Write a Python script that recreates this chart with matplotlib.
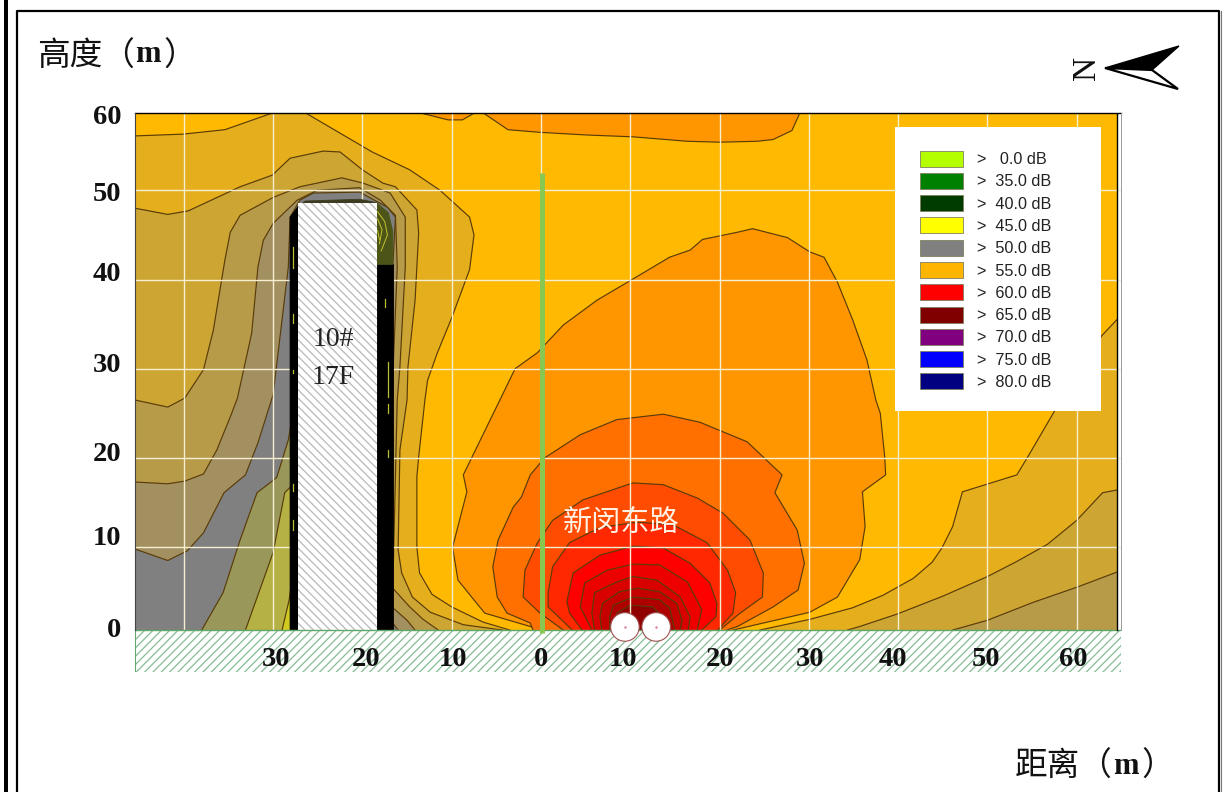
import numpy as np
import matplotlib
matplotlib.use("Agg")
from matplotlib import pyplot as plt
from matplotlib.patches import Rectangle, Circle, Polygon, Patch

plt.rcParams['font.family'] = ['Liberation Serif', 'Noto Sans CJK SC']
plt.rcParams['hatch.linewidth'] = 0.9

# iso-lines, metres (distance, height)
# quiet side, left of the building
left_1 = [(-45.5,56.1),(-40.1,56.3),(-35.4,56.8),(-30.0,58.7),(-26.4,58.7),(-23.0,56.7),(-18.9,54.3),(-14.7,52.3),(-11.3,50.0),(-8.0,47.0),(-7.5,45.0),(-8.0,41.1),(-10.0,35.7),(-11.6,31.8),(-12.7,28.7),(-13.0,26.5),(-13.7,20.1),(-13.9,17.9),(-13.9,10.0),(-13.6,7.1),(-12.2,4.7),(-10.0,3.3),(-6.5,1.6),(-3.5,0.7)]
left_2 = [(-45.5,48.0),(-41.8,47.3),(-39.5,47.7),(-33.7,50.4),(-30.1,51.7),(-28.1,53.6),(-24.4,54.4),(-22.5,54.3),(-20.0,52.3),(-17.7,50.8),(-16.3,50.4),(-13.9,47.8),(-13.7,45.2),(-14.1,37.7),(-14.9,30.2),(-15.0,26.5),(-15.8,20.9),(-16.0,9.7),(-15.6,7.1),(-14.4,4.4),(-12.4,2.7),(-8.7,1.3),(-4.3,0.7)]
left_3 = [(-45.5,26.5),(-41.8,25.7),(-39.9,26.7),(-37.8,29.9),(-36.7,34.3),(-35.4,42.2),(-34.8,45.3),(-33.7,47.2),(-30.0,49.2),(-27.0,50.4),(-22.3,51.4),(-19.9,50.8),(-16.9,49.7),(-15.2,47.0),(-15.2,41.4),(-15.8,30.2),(-16.1,26.5),(-16.6,5.4),(-14.7,3.3),(-13.2,1.9),(-11.5,0.7)]
left_4 = [(-45.5,17.3),(-41.8,17.1),(-39.9,17.4),(-37.8,18.2),(-36.3,20.9),(-34.8,24.6),(-34.0,26.7),(-32.4,34.0),(-31.7,41.4),(-31.1,44.4),(-30.0,46.3),(-27.3,48.9),(-25.1,50.0),(-20.3,50.3),(-18.0,48.9),(-16.3,47.2),(-16.1,41.4),(-16.7,26.5),(-16.7,3.3),(-15.0,1.8),(-14.1,0.7)]
left_5 = [(-45.5,9.8),(-41.8,8.5),(-39.6,9.6),(-37.8,11.6),(-35.5,16.1),(-33.1,18.1),(-31.7,21.7),(-30.0,27.1),(-28.3,41.4),(-28.1,47.0),(-27.0,48.9),(-25.5,49.7),(-20.3,49.8),(-17.2,48.1),(-16.3,47.0),(-16.6,41.4),(-16.9,26.5),(-16.7,1.6),(-16.0,0.7)]
left_6 = [(-38.0,0.7),(-35.6,4.9),(-33.7,10.8),(-31.8,16.1),(-29.6,17.8),(-28.3,22.0),(-27.9,24.3),(-27.9,0.7)]
left_7 = [(-33.1,0.7),(-30.0,9.4),(-28.7,16.1),(-27.9,16.9),(-27.9,0.7)]
left_8 = [(-29.0,0.7),(-28.2,4.1),(-27.9,6.3),(-27.9,0.7)]
# quiet side, far right
right_1 = [(64.5,35.5),(62.8,33.7),(57.6,25.4),(54.8,20.6),(53.3,18.1),(47.2,16.2),(46.1,12.3),(44.9,9.9),(43.8,8.3),(41.7,6.5),(38.3,4.6),(34.9,3.2),(30.1,1.9),(24.5,0.7)]
right_2 = [(64.5,16.4),(62.9,16.1),(60.0,13.0),(56.7,10.3),(53.3,8.4),(50.0,6.7),(45.0,4.5),(39.9,2.5),(35.7,1.1),(34.3,0.7)]
right_3 = [(64.5,7.2),(60.0,5.5),(55.1,3.8),(50.0,1.8),(46.1,0.7)]
# loud side, around the road
road_1 = [(0.4,0.7),(-1.2,1.1),(-6.3,2.6),(-9.3,6.3),(-9.9,10.0),(-8.3,16.2),(-8.7,18.1),(-4.6,26.5),(-2.9,30.0),(-0.4,31.8),(2.5,34.9),(6.3,37.7),(10.2,40.0),(14.4,42.5),(16.7,43.3),(18.1,44.5),(22.0,45.3),(23.7,45.7),(27.6,44.7),(30.1,43.1),(31.7,42.5),(33.2,39.7),(34.9,35.5),(36.5,31.0),(37.5,26.5),(38.0,25.0),(38.5,20.1),(38.6,18.1),(36.0,16.2),(36.3,12.3),(35.7,8.6),(33.2,4.4),(30.1,2.7),(21.5,0.7)]
road_2 = [(-0.9,0.7),(-1.2,1.5),(-3.8,2.6),(-4.9,4.4),(-5.4,7.8),(-4.8,10.8),(-3.1,14.5),(-2.2,15.6),(-1.2,18.1),(0.4,20.0),(4.4,22.6),(8.5,24.3),(13.7,24.9),(17.8,24.0),(23.1,21.8),(27.0,18.1),(26.2,16.1),(28.7,11.9),(29.5,8.2),(28.8,5.2),(26.0,3.3),(22.0,1.1),(20.8,0.7)]
road_3 = [(2.5,0.7),(-0.1,2.6),(-2.0,4.4),(-1.8,7.4),(-0.4,10.5),(1.3,13.0),(4.7,15.3),(10.3,17.2),(13.7,17.0),(17.5,15.5),(20.4,13.8),(23.4,10.8),(24.9,7.1),(24.8,4.4),(22.3,2.6),(20.0,0.7)]
road_4 = [(3.5,0.7),(0.8,3.3),(0.8,4.9),(1.3,7.8),(3.2,10.5),(6.6,12.2),(10.8,12.8),(14.8,12.5),(18.6,10.5),(20.9,7.4),(21.8,4.9),(21.5,2.6),(19.8,0.7)]
road_5 = [(4.6,0.7),(3.2,2.6),(2.9,3.9),(3.6,7.1),(6.6,9.1),(10.3,10.1),(13.7,9.9),(16.7,8.2),(18.9,6.0),(19.7,3.7),(19.6,2.2),(18.0,0.7)]
road_6 = [(5.7,0.7),(4.4,3.3),(4.9,6.0),(7.4,7.4),(10.3,8.1),(13.3,8.0),(16.4,6.1),(18.0,3.0),(17.5,0.7)]
road_7 = [(6.0,0.7),(5.7,2.6),(6.0,4.9),(8.5,6.1),(10.3,6.7),(13.0,6.3),(15.6,4.4),(16.7,2.2),(16.5,0.7)]
road_8 = [(6.8,0.7),(6.6,2.2),(6.9,3.7),(8.8,5.0),(10.8,5.4),(13.3,5.0),(15.2,3.7),(15.8,1.8),(15.6,0.7)]
road_9 = [(7.7,0.7),(7.7,2.2),(8.1,3.5),(10.3,4.4),(13.3,4.1),(14.4,3.2),(15.0,0.7)]
road_10 = [(8.5,0.7),(8.5,2.6),(10.0,3.5),(12.5,3.3),(14.1,1.8),(14.2,0.7)]
# top of the plot
top_1 = [(-6.5,58.7),(-3.7,56.8),(-0.1,56.5),(5.2,56.2),(10.3,56.0),(16.4,55.5),(20.0,55.4),(24.2,55.5),(26.0,55.7),(28.1,56.7),(29.0,58.7)]
top_2 = [(-13.6,58.7),(-10.4,57.9),(-8.8,57.9),(-7.4,58.7)]

left_colors = ['#E5AE1C', '#CDA532', '#B79B49', '#A39060', '#808080', '#9A975A', '#B5B145', '#CFCB20']
right_colors = ['#E5AE1C', '#CDA532', '#B79B49']
road_colors = ['#FF9600', '#FF7000', '#FF4C00', '#FF2800', '#FF0000', '#EC0000', '#D80000', '#C40000', '#AE0000', '#900000']

# building and what hugs it
building = (-27.2, -18.4, 48.6)
wall_left = [(-28.1,0.7),(-28.1,47.0),(-27.2,48.2),(-27.2,0.7)]
wall_right = [(-18.4,0.7),(-18.4,41.7),(-16.6,41.7),(-16.6,0.7)]
wedge = [(-18.4,48.6),(-17.1,47.5),(-16.6,45.4),(-16.6,41.7),(-18.4,41.7)]
roof_ring = [(-27.2,48.2),(-26.4,48.8),(-20.3,49.0),(-18.4,48.6)]
wedge_lines = [[(-18.3,47.6),(-17.5,46.5),(-17.2,45.0),(-17.9,43.2)],[(-18.3,46.8),(-17.8,45.6),(-18.1,44.0)],[(-18.3,45.5),(-18.1,44.5)]]
dashes_x = [-27.8,-27.8,-27.8,-27.8,-27.8,-17.1,-17.5,-17.1,-17.1]
dashes_y = [(41.3,43.6),(35.1,36.1),(29.5,29.9),(16.3,17.1),(11.9,13.0),(26.8,30.8),(36.9,37.8),(25.0,26.1),(20.1,20.9)]

legend_labels = ['>   0.0 dB','>  35.0 dB','>  40.0 dB','>  45.0 dB','>  50.0 dB','>  55.0 dB','>  60.0 dB','>  65.0 dB','>  70.0 dB','>  75.0 dB','>  80.0 dB']
legend_colors = ['#B4FF00','#008000','#003C00','#FFFF00','#808080','#FFB400','#FF0000','#800000','#800080','#0000FF','#000080']

x_grid = [-40,-30,-20,-10,0,10,20,30,40,50,60]
y_grid = [10,20,30,40,50]
x_label_pos = [-29.7,-19.6,-9.9,0,9.2,20,30.1,39.4,49.8,59.6]
x_labels = ['30','20','10','0','10','20','30','40','50','60']
y_label_pos = [58.4,49.7,40.8,30.6,20.6,11.2,0.8]
y_labels = ['60','50','40','30','20','10','0']
source_x = [9.4, 12.9]
source_y = [1.05, 1.05]

W, H = 1226, 792
fig = plt.figure(figsize=(W/100, H/100), dpi=100, facecolor='white')

# page frame, arrow and titles on a full figure axes in pixels
bg = fig.add_axes([0, 0, 1, 1])
bg.set_xlim(0, W)
bg.set_ylim(H, 0)
bg.axis('off')
bg.add_patch(Rectangle((4, 0), 3.5, H, fc='black', ec='none'))
bg.plot([17, 17, 1219, 1219], [H, 11, 11, H], color='black', lw=1.6)
bg.plot([1221, 1221], [11, H], color='#777777', lw=0.8)
bg.add_patch(Polygon([(1105,68),(1179,46),(1152,70)], fc='black', ec='black', lw=1))
bg.add_patch(Polygon([(1105,68),(1152,70),(1178,89)], fc='white', ec='black', lw=1.6))
bg.text(1087, 68, 'N', rotation=90, fontsize=24, ha='center', va='center', color='#111111')
bg.text(37, 57, '高度（', fontsize=23.5, ha='left', va='center', color='#111111')
bg.text(135, 55, 'm', fontsize=22, fontweight='bold', ha='left', va='center', color='#111111')
bg.text(163, 57, '）', fontsize=23.5, ha='left', va='center', color='#111111')
bg.text(1015, 767, '距离（', fontsize=23.5, ha='left', va='center', color='#111111')
bg.text(1113, 766, 'm', fontsize=22, fontweight='bold', ha='left', va='center', color='#111111')
bg.text(1141, 767, '）', fontsize=23.5, ha='left', va='center', color='#111111')

ax = fig.add_axes([135/W, 1-672/H, (1121-135)/W, (672-113)/H])
ax.set_xlim(-45.47, 64.96)
ax.set_ylim(-4.0, 58.67)
ax.patch.set_alpha(0)
ax.axis('off')

line_c = '#5A3C08'
def band(pts, color, close=None):
    pts = np.array(pts + (close or []))
    ax.fill(pts[:, 0], pts[:, 1], fc=color, ec='none', zorder=2)

def iso(pts):
    pts = np.array(pts)
    ax.plot(pts[:, 0], pts[:, 1], color=line_c, lw=0.85, zorder=2)

ax.add_patch(Rectangle((-45.47, 0.7), 109.97, 57.97, fc='#FFB900', ec='none', zorder=1))

for pts, c in zip([left_1, left_2, left_3, left_4, left_5, left_6, left_7, left_8], left_colors):
    band(pts, c, [(-45.47, 0.7)] if pts[0][0] < -45 else None)
    iso(pts)
for pts, c in zip([right_1, right_2, right_3], right_colors):
    band(pts, c, [(64.5, 0.7)])
    iso(pts)
for pts, c in zip([road_1, road_2, road_3, road_4, road_5, road_6, road_7, road_8, road_9, road_10], road_colors):
    band(pts, c)
    iso(pts)
for pts in [top_1, top_2]:
    band(pts, road_colors[0])
    iso(pts)

# grid
for x in x_grid:
    ax.plot([x, x], [0.7, 58.67], color='#F6EED0', lw=1.0, zorder=3)
for y in y_grid:
    ax.plot([-45.47, 64.96], [y, y], color='#F6EED0', lw=1.0, zorder=3)

# walls, roof and building
for pts, c in [(wall_left, 'black'), (wall_right, 'black'), (wedge, '#4C5418'), (roof_ring, '#3C3C20')]:
    p = np.array(pts)
    ax.fill(p[:, 0], p[:, 1], fc=c, ec=c, lw=0.6, zorder=4)
for pts in wedge_lines:
    p = np.array(pts)
    ax.plot(p[:, 0], p[:, 1], color='#C4C42C', lw=0.7, zorder=4)
for x, y in zip(dashes_x, dashes_y):
    ax.plot([x, x], y, color='#B8C030', lw=0.9, zorder=4)
ax.add_patch(Rectangle((building[0], 0.7), building[1]-building[0], building[2]-0.7, fc='white', ec='#B8B8B8', hatch='\\\\\\\\', lw=0, zorder=5))
ax.text(-23.3, 33.3, '10#', fontsize=20, ha='center', va='center', color='#222222', zorder=6)
ax.text(-23.3, 29.0, '17F', fontsize=20, ha='center', va='center', color='#222222', zorder=6)

# ground
ax.add_patch(Rectangle((-45.47, -4.0), 110.43, 4.7, fc='white', ec='#86BC96', hatch='////', lw=0, zorder=5))
ax.plot([-45.47, 64.96], [0.7, 0.7], color='#5FA868', lw=1.0, zorder=6)
ax.plot([-45.47, -45.47], [-4.0, 0.7], color='#5FA868', lw=0.8, zorder=6)
ax.plot([64.96, 64.96], [-4.0, 0.7], color='#86BC96', lw=0.8, zorder=6)

# plot border
ax.plot([-45.47, 64.96], [58.67, 58.67], color='black', lw=1.0, zorder=6, clip_on=False)
ax.plot([-45.47, -45.47], [0.7, 58.67], color='#444444', lw=0.8, zorder=6, clip_on=False)
ax.plot([64.5, 64.5], [0.7, 58.67], color='black', lw=1.0, zorder=6)
ax.plot([64.96, 64.96], [0.7, 58.67], color='#999999', lw=0.7, zorder=6, clip_on=False)

# barrier and road
ax.plot([0.1, 0.1], [0.4, 51.9], color='#88C850', lw=3.6, solid_capstyle='butt', zorder=7)
for x, y in zip(source_x, source_y):
    ax.add_patch(Circle((x, y), 1.6, fc='white', ec='#A05050', lw=0.8, zorder=8))
    ax.plot(x, y, '.', color='#D08090', ms=1.5, zorder=9)
ax.text(9.0, 12.7, '新闵东路', fontsize=21, ha='center', va='center', color='#FFF2E4', zorder=7)

# axis labels
for x, s in zip(x_label_pos, x_labels):
    ax.text(x, -2.65, s, fontsize=20.5, fontweight='bold', ha='center', va='center', color='#111111', zorder=7)
for y, s in zip(y_label_pos, y_labels):
    ax.text(-47.0, y - 0.2, s, fontsize=20.5, fontweight='bold', ha='right', va='center', color='#111111', clip_on=False, zorder=7)

# legend
ax.add_patch(Rectangle((39.6, 25.3), 23.1, 31.8, fc='white', ec='none', zorder=7))
handles = [Patch(fc=c, ec='#808060', lw=0.6) for c in legend_colors]
leg = ax.legend(handles, legend_labels, loc='upper left', bbox_to_anchor=(42.4, 54.45), bbox_transform=ax.transData,
                frameon=False, prop={'family': 'Liberation Sans', 'size': 11.7}, borderpad=0, borderaxespad=0,
                handlelength=2.7, handleheight=1.14, handletextpad=0.86, labelspacing=0.354)
leg.set_zorder(8)
for t in leg.get_texts():
    t.set_color('#222222')

fig.savefig('out.png', dpi=100, facecolor='white')
